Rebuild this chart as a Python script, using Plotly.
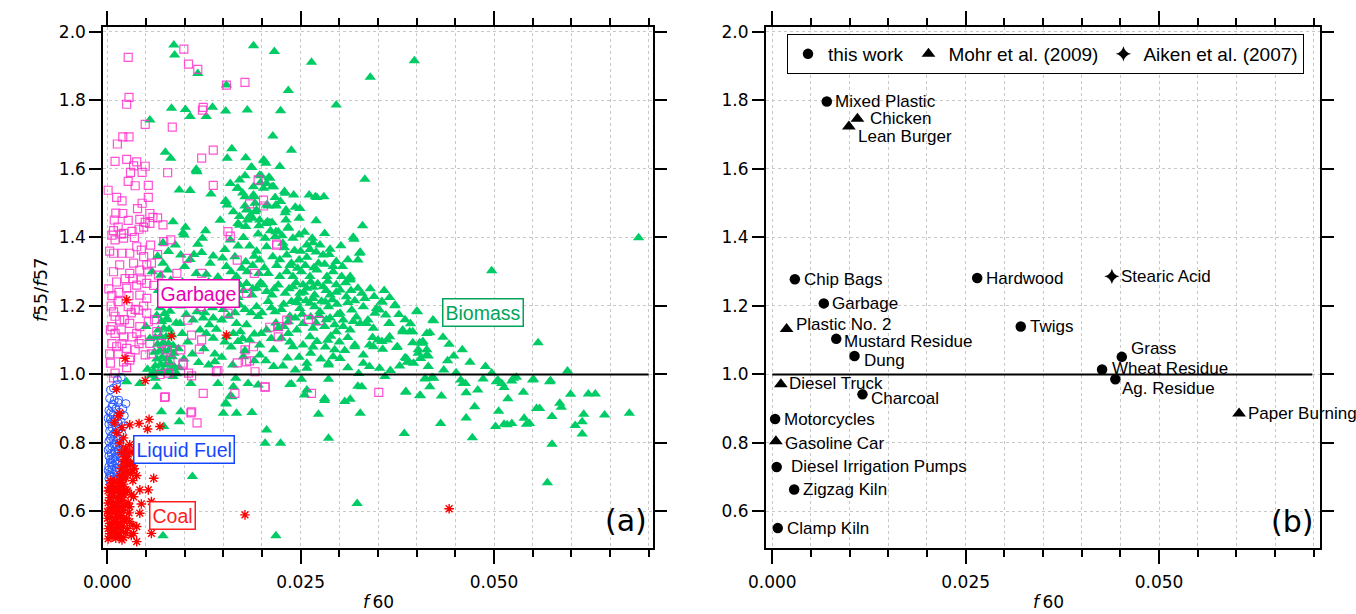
import plotly.graph_objects as go

# ---------------- Panel (a) data: (f60, f55/f57) ----------------
biomass_pts = [
    (0.0086,1.962),(0.0087,1.933),(0.0117,1.879),(0.0189,1.960),(0.0216,1.943),(0.0264,1.912),(0.0397,1.916),(0.0340,1.868),
    (0.0234,1.829),(0.0154,1.845),(0.0296,1.787),(0.0083,1.777),(0.0101,1.774),(0.0107,1.753),(0.0136,1.780),(0.0128,1.753),
    (0.0153,1.769),(0.0181,1.772),(0.0224,1.770),(0.0055,1.743),(0.0214,1.696),(0.0161,1.659),(0.0238,1.655),(0.0075,1.649),
    (0.0082,1.631),(0.0155,1.631),(0.0179,1.633),(0.0202,1.626),(0.0186,1.605),(0.0223,1.607),(0.0115,1.595),(0.0333,1.570),
    (0.0093,1.539),(0.0107,1.537),(0.0134,1.527),(0.0159,1.558),(0.0171,1.568),(0.0178,1.580),(0.0199,1.580),(0.0209,1.576),
    (0.0169,1.544),(0.0202,1.544),(0.0213,1.548),(0.0229,1.534),(0.0241,1.524),(0.0261,1.524),(0.0269,1.519),(0.0280,1.519),
    (0.0178,1.519),(0.0189,1.524),(0.0153,1.505),(0.0155,1.495),(0.0180,1.480),(0.0191,1.475),(0.0206,1.495),(0.0218,1.495),
    (0.0230,1.472),(0.0249,1.485),(0.0248,1.456),(0.0270,1.449),(0.0231,1.451),(0.0181,1.451),(0.0169,1.441),(0.0205,1.441),
    (0.0213,1.444),(0.0085,1.446),(0.0330,1.434),(0.0101,1.430),(0.0098,1.414),(0.0179,1.432),(0.0196,1.434),(0.0218,1.417),
    (0.0234,1.430),(0.0255,1.415),(0.0281,1.412),(0.0318,1.401),
    (0.0203,1.624),(0.0205,1.617),(0.0115,1.599),(0.0116,1.592),(0.0187,1.604),(0.0197,1.582),(0.0210,1.573),(0.0206,1.558),
    (0.0168,1.544),(0.0189,1.548),(0.0215,1.548),(0.0230,1.529),(0.0271,1.517),(0.0153,1.507),(0.0190,1.519),(0.0217,1.517),
    (0.0178,1.492),(0.0181,1.482),(0.0193,1.480),(0.0208,1.492),(0.0218,1.492),(0.0231,1.480),(0.0243,1.488),(0.0171,1.461),
    (0.0188,1.456),(0.0197,1.451),(0.0207,1.446),(0.0171,1.436),(0.0210,1.443),(0.0221,1.417),(0.0234,1.427),
    (0.0072,1.385),(0.0088,1.378),(0.0099,1.407),(0.0123,1.398),(0.0159,1.393),(0.0169,1.375),(0.0184,1.375),(0.0204,1.398),
    (0.0206,1.373),(0.0217,1.402),(0.0227,1.383),(0.0240,1.398),(0.0258,1.378),(0.0266,1.385),(0.0275,1.378),(0.0288,1.366),
    (0.0302,1.376),(0.0319,1.395),(0.0327,1.357),
    (0.0079,1.359),(0.0095,1.349),(0.0107,1.336),(0.0122,1.356),(0.0133,1.325),(0.0137,1.346),(0.0165,1.344),(0.0179,1.329),
    (0.0197,1.334),(0.0214,1.344),(0.0232,1.349),(0.0238,1.325),(0.0248,1.334),(0.0258,1.342),(0.0273,1.325),(0.0279,1.349),
    (0.0292,1.315),(0.0304,1.315),(0.0314,1.286),(0.0324,1.334),
    (0.0100,1.315),(0.0115,1.295),(0.0128,1.293),(0.0154,1.315),(0.0167,1.286),(0.0181,1.300),(0.0196,1.295),(0.0208,1.295),
    (0.0223,1.286),(0.0232,1.300),(0.0240,1.286),(0.0251,1.300),(0.0262,1.286),(0.0271,1.305),(0.0284,1.286),(0.0292,1.300),
    (0.0303,1.286),(0.0314,1.276),
    (0.0109,1.261),(0.0124,1.252),(0.0145,1.256),(0.0163,1.266),(0.0180,1.266),(0.0193,1.252),(0.0206,1.242),(0.0221,1.261),
    (0.0230,1.237),(0.0240,1.256),(0.0249,1.237),(0.0258,1.252),(0.0268,1.232),(0.0279,1.256),(0.0288,1.232),(0.0301,1.247),
    (0.0309,1.227),(0.0324,1.252),(0.0333,1.222),(0.0329,1.237),
    (0.0088,1.213),(0.0103,1.203),(0.0116,1.183),(0.0133,1.218),(0.0148,1.203),(0.0161,1.218),(0.0171,1.203),(0.0193,1.198),
    (0.0208,1.213),(0.0217,1.183),(0.0238,1.213),(0.0249,1.193),(0.0262,1.208),(0.0275,1.183),(0.0286,1.198),(0.0301,1.179),
    (0.0316,1.188),(0.0331,1.198),(0.0346,1.179),(0.0355,1.213),(0.0372,1.203),(0.0401,1.183),(0.0421,1.159),
    (0.0077,1.164),(0.0094,1.149),(0.0111,1.159),(0.0132,1.145),(0.0148,1.159),(0.0167,1.149),(0.0180,1.145),(0.0195,1.169),
    (0.0206,1.130),(0.0221,1.135),(0.0234,1.154),(0.0245,1.130),(0.0253,1.149),(0.0266,1.135),(0.0281,1.140),(0.0294,1.145),
    (0.0305,1.159),(0.0314,1.130),(0.0327,1.149),(0.0337,1.159),(0.0344,1.135),(0.0352,1.188),(0.0365,1.149),(0.0382,1.125),
    (0.0395,1.125),(0.0413,1.120),
    (0.0137,1.106),(0.0154,1.110),(0.0169,1.096),(0.0184,1.101),(0.0197,1.086),(0.0215,1.072),(0.0225,1.106),(0.0240,1.081),
    (0.0253,1.086),(0.0271,1.096),(0.0292,1.052),(0.0320,1.081),(0.0331,1.057),(0.0344,1.081),(0.0355,1.096),(0.0365,1.110),
    (0.0375,1.081),(0.0387,1.047),(0.0402,1.072),(0.0413,1.057),(0.0408,1.096),
    (0.0139,1.037),(0.0162,1.028),(0.0176,1.052),(0.0197,1.057),(0.0215,1.023),(0.0227,1.025),(0.0243,1.013),(0.0258,1.018),
    (0.0286,1.028),(0.0301,1.047),(0.0339,1.023),(0.0352,1.018),(0.0415,1.023),
    (0.0166,0.989),(0.0182,0.974),(0.0195,0.969),(0.0238,0.972),(0.0251,0.986),(0.0286,0.986),(0.0324,0.966),(0.0329,0.964),
    (0.0359,0.994),(0.0386,0.950),(0.0404,0.939),(0.0417,0.964),(0.0411,0.989),(0.0422,0.989),(0.0255,0.940),(0.0281,0.930),
    (0.0307,0.921),(0.0314,0.928),(0.0159,0.937),(0.0154,0.914),(0.0150,0.887),(0.0167,0.887),(0.0273,0.884),(0.0327,0.887),
    (0.0095,0.891),(0.0108,0.974),
    (0.0687,1.399),(0.0497,1.303),(0.0557,1.093),(0.0595,1.010),(0.0422,1.157),(0.0400,1.185),(0.0434,1.109),(0.0442,1.088),
    (0.0459,1.072),(0.0448,1.054),(0.0469,1.036),(0.0489,1.023),(0.0497,1.004),(0.0435,1.013),(0.0451,1.005),(0.0440,1.040),
    (0.0417,1.122),(0.0404,1.093),(0.0413,1.072),(0.0402,1.062),
    (0.0326,1.354),(0.0314,1.281),(0.0372,1.201),(0.0355,1.211),(0.0364,1.149),(0.0360,1.174),(0.0348,1.193),(0.0335,1.149),
    (0.0382,1.130),(0.0408,1.091),(0.0388,1.036),(0.0374,1.079),(0.0356,1.074),(0.0362,1.101),(0.0350,1.101),(0.0339,1.086),
    (0.0320,1.086),(0.0331,1.033),(0.0294,1.072),(0.0286,1.033),(0.0258,1.033),(0.0419,0.989),(0.0457,0.984),(0.0505,0.984),
    (0.0525,0.989),(0.0550,0.984),(0.0572,0.979),
    (0.0391,1.125),(0.0395,1.093),(0.0415,1.054),(0.0385,1.049),(0.0389,1.037),(0.0396,1.033),(0.0405,1.047),
    (0.0411,0.987),(0.0420,0.991),(0.0460,0.974),(0.0463,0.974),(0.0479,0.955),(0.0486,0.987),(0.0503,0.979),(0.0510,0.974),
    (0.0513,0.962),(0.0523,0.981),(0.0529,0.992),(0.0538,0.948),(0.0551,0.986),(0.0573,0.982),(0.0386,0.948),(0.0405,0.938),
    (0.0432,0.937),(0.0464,0.947),(0.0518,0.929),(0.0599,0.942),(0.0622,0.943),(0.0631,0.943),(0.0585,0.916),(0.0587,0.904),
    (0.0475,0.906),(0.0555,0.901),(0.0559,0.901),(0.0506,0.893),(0.0616,0.884),(0.0643,0.882),(0.0675,0.887),(0.0464,0.873),
    (0.0431,0.857),(0.0502,0.848),(0.0513,0.855),(0.0517,0.853),(0.0523,0.857),(0.0539,0.872),(0.0542,0.855),(0.0546,0.857),
    (0.0575,0.877),(0.0605,0.851),(0.0614,0.862),(0.0614,0.826),(0.0384,0.828),(0.0472,0.815),(0.0575,0.796),(0.0569,0.684),
    (0.0025,0.979),(0.0070,0.891),(0.0093,0.862),(0.0073,0.848),(0.0153,0.916),(0.0187,0.889),(0.0206,0.838),(0.0204,0.799),
    (0.0224,0.799),(0.0110,0.702),(0.0072,0.529),(0.0218,0.529),(0.0286,0.814),(0.0236,0.971),(0.0258,0.955),(0.0281,0.924),
    (0.0161,0.935),(0.0163,0.964),(0.0085,0.994),(0.0062,0.989),(0.0064,0.964),(0.0042,0.974),(0.0143,0.974),(0.0131,1.028),
    (0.0323,0.623),
    (0.0060,1.010),(0.0066,1.005),(0.0072,1.012),(0.0078,1.008),(0.0083,1.015),(0.0062,1.025),(0.0069,1.030),(0.0075,1.028),
    (0.0081,1.033),(0.0087,1.022),(0.0064,1.045),(0.0071,1.050),(0.0077,1.046),(0.0084,1.052),(0.0061,1.065),(0.0068,1.070),
    (0.0074,1.068),(0.0080,1.072),(0.0086,1.062),(0.0065,1.088),(0.0072,1.092),(0.0079,1.090),(0.0085,1.085),(0.0062,1.108),
    (0.0069,1.112),(0.0076,1.110),(0.0083,1.115),(0.0066,1.130),(0.0073,1.135),(0.0080,1.132),(0.0070,1.155),(0.0077,1.160),
    (0.0064,1.172),(0.0074,1.178),(0.0081,1.185),(0.0068,1.195),(0.0076,1.205),(0.0071,1.222),(0.0079,1.235),(0.0066,1.245),
    (0.0074,1.262),(0.0082,1.275),(0.0069,1.290),(0.0078,1.305),(0.0072,1.325),(0.0065,1.345),
    (0.0093,1.020),(0.0099,1.045),(0.0092,1.075),(0.0104,1.095),(0.0097,1.120),(0.0110,1.060),(0.0118,1.035),(0.0125,1.075),
    (0.0089,1.150),(0.0102,1.175),(0.0095,1.200),(0.0112,1.225),(0.0120,1.130),(0.0126,1.180),(0.0088,1.240),(0.0097,1.270),
    (0.0058,1.300),(0.0090,1.002),(0.0057,0.998),(0.0052,1.015),(0.0055,1.105),(0.0050,1.140),
    (0.0244,1.268),(0.0253,1.262),(0.0263,1.270),(0.0272,1.265),(0.0285,1.272),(0.0296,1.262),(0.0308,1.268),(0.0247,1.222),
    (0.0257,1.215),(0.0266,1.222),(0.0277,1.214),(0.0291,1.218),(0.0311,1.210),(0.0252,1.176),(0.0263,1.168),(0.0274,1.172),
    (0.0288,1.165),(0.0298,1.175),(0.0322,1.168),(0.0236,1.170),(0.0225,1.190),(0.0213,1.232),(0.0198,1.268),(0.0187,1.232),
    (0.0176,1.245),(0.0169,1.225),(0.0158,1.240),(0.0142,1.235),(0.0136,1.195),(0.0124,1.165),(0.0157,1.170),(0.0186,1.180),
    (0.0246,1.310),(0.0256,1.318),(0.0267,1.312),(0.0281,1.322),(0.0296,1.330),(0.0311,1.335),(0.0287,1.350),(0.0270,1.358),
    (0.0250,1.360),(0.0229,1.370),(0.0193,1.360),(0.0152,1.365),(0.0143,1.285),(0.0131,1.270),(0.0340,1.250),(0.0345,1.228),
    (0.0358,1.245),(0.0365,1.225),(0.0377,1.175),(0.0385,1.160),(0.0392,1.148),(0.0343,1.108),(0.0311,1.108),(0.0300,1.095),
    (0.0289,1.112),(0.0262,1.110),(0.0234,1.120),(0.0212,1.105),(0.0190,1.118),(0.0172,1.125),(0.0160,1.080),(0.0178,1.070),
    (0.0190,1.040),(0.0233,1.048),(0.0263,1.062),(0.0276,1.045),(0.0311,1.020),(0.0325,1.003),(0.0366,1.012),(0.0378,1.025),
    (0.0128,1.120),(0.0141,1.132),(0.0152,1.095),(0.0163,1.120),(0.0175,1.105),(0.0199,1.120),(0.0218,1.150),(0.0228,1.140),
    (0.0243,1.165),(0.0270,1.150),(0.0283,1.160),(0.0296,1.125),(0.0305,1.140),(0.0318,1.155),(0.0137,1.165),(0.0150,1.190),
    (0.0165,1.180),(0.0178,1.190),(0.0200,1.180),(0.0212,1.195),(0.0228,1.205),(0.0245,1.210),(0.0268,1.198),(0.0282,1.212),
    (0.0297,1.205),(0.0320,1.215),(0.0153,1.240),(0.0171,1.262),(0.0188,1.250),(0.0201,1.262),(0.0216,1.250),(0.0235,1.250),
    (0.0254,1.240),(0.0266,1.255),(0.0283,1.245),(0.0296,1.240),(0.0315,1.245),(0.0160,1.300),(0.0174,1.310),(0.0188,1.318),
    (0.0203,1.312),(0.0219,1.318),(0.0236,1.318),(0.0149,1.340),(0.0190,1.345),(0.0223,1.335),(0.0242,1.362),(0.0262,1.365),
    (0.0176,1.400),(0.0195,1.410),(0.0211,1.420),(0.0226,1.405),(0.0248,1.408),(0.0265,1.398),(0.0191,1.500),(0.0175,1.530),
    (0.0198,1.560),(0.0224,1.505),(0.0185,1.465),(0.0163,1.475),(0.0146,1.450),(0.0127,1.420),(0.0117,1.380),(0.0112,1.350),
    (0.0104,1.250),(0.0139,1.060),(0.0148,1.050),(0.0205,1.040),(0.0248,1.050),(0.0266,1.080),(0.0282,1.080),(0.0307,1.070),
    (0.0236,1.095),(0.0285,1.100),
]

garbage_pts = [
    (0.0027,1.926),(0.0099,1.950),(0.0105,1.906),(0.0117,1.891),(0.0154,1.845),(0.0178,1.853),(0.0028,1.809),(0.0025,1.789),
    (0.0124,1.780),(0.0123,1.772),(0.0049,1.730),(0.0084,1.722),(0.0020,1.694),(0.0028,1.694),(0.0013,1.673),(0.0137,1.655),
    (0.0025,1.628),(0.0010,1.622),(0.0038,1.621),(0.0034,1.609),(0.0049,1.608),(0.0122,1.632),(0.0030,1.590),(0.0045,1.590),
    (0.0078,1.589),(0.0027,1.564),(0.0036,1.551),(0.0053,1.552),(0.0137,1.552),(0.0001,1.538),(0.0012,1.517),(0.0019,1.507),
    (0.0053,1.517),(0.0039,1.484),(0.0011,1.471),(0.0009,1.451),(0.0042,1.453),(0.0049,1.444),(0.0055,1.441),(0.0059,1.459),
    (0.0065,1.457),(0.0072,1.437),(0.0041,1.424),(0.0032,1.418),(0.0014,1.430),(0.0006,1.407),(0.0021,1.412),(0.0159,1.404),
    (0.0082,1.393),
    (0.0008,1.354),(0.0019,1.354),(0.0029,1.354),(0.0010,1.393),(0.0021,1.398),(0.0038,1.373),(0.0044,1.363),(0.0056,1.378),
    (0.0047,1.344),(0.0034,1.325),(0.0029,1.295),(0.0042,1.305),(0.0051,1.320),(0.0057,1.325),(0.0066,1.290),(0.0044,1.276),
    (0.0051,1.266),(0.0038,1.261),(0.0025,1.252),(0.0042,1.232),(0.0051,1.222),(0.0014,1.213),(0.0027,1.198),(0.0040,1.188),
    (0.0051,1.179),(0.0008,1.183),(0.0016,1.159),(0.0029,1.149),(0.0042,1.140),(0.0053,1.154),(0.0006,1.140),(0.0010,1.120),
    (0.0021,1.110),(0.0032,1.110),(0.0044,1.101),(0.0055,1.091),(0.0012,1.081),(0.0025,1.076),(0.0036,1.072),(0.0049,1.057),
    (0.0004,1.033),(0.0010,1.004),(0.0021,1.037),(0.0029,1.042),(0.0064,1.125),(0.0070,1.091),(0.0077,1.072),(0.0081,1.042),
    (0.0079,1.004),(0.0075,0.935),(0.0098,1.033),(0.0109,0.891),(0.0116,0.859),(0.0124,0.945),(0.0165,0.945),(0.0178,1.072),
    (0.0189,1.081),(0.0180,1.037),(0.0204,0.964),(0.0264,0.945),(0.0105,1.004),(0.0122,1.101),(0.0109,1.115),(0.0141,1.008),
    (0.0191,1.008),(0.0219,1.378),(0.0156,1.417),(0.0221,1.140),(0.0232,1.159),(0.0260,1.161),(0.0274,1.157),(0.0190,1.295),
    (0.0103,1.339),(0.0122,1.295),(0.0090,1.295),
    (0.0195,1.568),(0.0202,1.509),(0.0184,1.498),(0.0202,1.492),(0.0219,1.381),(0.0073,1.388),(0.0168,1.334),
    (0.0180,1.237),(0.0156,1.179),(0.0121,1.198),(0.0104,1.159),(0.0210,1.138),(0.0221,1.110),(0.0119,1.074),(0.0095,1.072),
    (0.0168,1.034),(0.0184,1.040),(0.0143,1.011),(0.0098,1.028),(0.0109,0.996),(0.0204,0.963),(0.0351,0.948),(0.0074,0.933),
    (0.0108,0.888),
    (0.0003,1.360),(0.0008,1.300),(0.0002,1.250),(0.0012,1.270),(0.0005,1.200),(0.0015,1.240),(0.0010,1.170),(0.0004,1.130),
    (0.0018,1.130),(0.0006,1.090),(0.0014,1.060),(0.0022,1.160),(0.0028,1.230),(0.0033,1.280),(0.0036,1.190),(0.0041,1.090),
    (0.0030,1.050),(0.0025,1.020),(0.0008,0.990),(0.0018,1.410),(0.0027,1.450),(0.0035,1.400),(0.0047,1.430),(0.0052,1.300),
    (0.0060,1.260),(0.0061,1.160),(0.0057,1.060),(0.0068,1.000),(0.0065,1.350),(0.0055,1.470),(0.0045,1.500),(0.0020,1.470),
    (0.0008,1.420),(0.0016,1.320),(0.0023,1.280),(0.0031,1.180),(0.0047,1.200),(0.0038,1.120),(0.0019,1.090),(0.0003,1.060),
    (0.0006,1.230),
]

liquid_fuel_pts = [
    (0.0004,0.955),(0.0008,0.960),(0.0013,0.985),(0.0018,0.992),(0.0012,0.970),(0.0003,0.930),(0.0009,0.925),(0.0014,0.918),
    (0.0006,0.905),(0.0011,0.900),(0.0002,0.895),(0.0016,0.890),(0.0007,0.882),(0.0013,0.876),(0.0004,0.870),(0.0009,0.865),
    (0.0018,0.862),(0.0002,0.855),(0.0011,0.850),(0.0006,0.845),(0.0015,0.840),(0.0003,0.835),(0.0010,0.830),(0.0019,0.826),
    (0.0005,0.820),(0.0013,0.815),(0.0008,0.810),(0.0002,0.805),(0.0016,0.800),(0.0011,0.795),(0.0006,0.790),(0.0003,0.785),
    (0.0014,0.781),(0.0009,0.776),(0.0005,0.770),(0.0012,0.766),(0.0002,0.762),(0.0017,0.758),(0.0007,0.754),(0.0010,0.748),
    (0.0004,0.744),(0.0013,0.740),(0.0008,0.735),(0.0002,0.731),(0.0015,0.727),(0.0006,0.722),(0.0011,0.718),(0.0003,0.714),
    (0.0009,0.709),(0.0005,0.704),(0.0013,0.700),(0.0002,0.696),(0.0008,0.692),(0.0011,0.686),(0.0004,0.682),(0.0007,0.676),
    (0.0010,0.670),(0.0005,0.664),(0.0012,0.658),(0.0008,0.652),(0.0001,0.872),(0.0001,0.780),(0.0001,0.720),(0.0020,0.900),
    (0.0021,0.850),(0.0020,0.780),(0.0017,0.700),(0.0006,0.862),(0.0012,0.842),(0.0004,0.812),(0.0009,0.796),(0.0015,0.770),
    (0.0006,0.742),(0.0012,0.728),(0.0003,0.705),(0.0016,0.812),(0.0007,0.913),(0.0004,0.888),(0.0014,0.858),(0.0010,0.758),
    (0.0004,0.752),(0.0008,0.826),(0.0013,0.790),(0.0015,0.925),(0.0024,0.915),(0.0022,0.880),
]

coal_pts = [
    (0.0001,0.520),(0.0006,0.525),(0.0011,0.522),(0.0016,0.528),(0.0021,0.524),(0.0003,0.535),(0.0008,0.540),(0.0013,0.536),
    (0.0018,0.542),(0.0024,0.538),(0.0001,0.550),(0.0005,0.555),(0.0010,0.548),(0.0015,0.553),(0.0020,0.558),(0.0026,0.550),
    (0.0003,0.565),(0.0008,0.570),(0.0012,0.562),(0.0017,0.568),(0.0022,0.572),(0.0000,0.580),(0.0005,0.585),(0.0010,0.578),
    (0.0014,0.583),(0.0019,0.588),(0.0025,0.580),(0.0002,0.595),(0.0007,0.600),(0.0012,0.593),(0.0016,0.598),(0.0021,0.603),
    (0.0028,0.596),(0.0004,0.610),(0.0009,0.615),(0.0013,0.608),(0.0018,0.613),(0.0023,0.618),(0.0001,0.625),(0.0006,0.630),
    (0.0011,0.622),(0.0015,0.628),(0.0020,0.633),(0.0027,0.625),(0.0003,0.640),(0.0008,0.645),(0.0013,0.638),(0.0017,0.643),
    (0.0022,0.648),(0.0005,0.655),(0.0010,0.660),(0.0015,0.653),(0.0019,0.658),(0.0024,0.664),(0.0002,0.670),(0.0007,0.675),
    (0.0012,0.668),(0.0017,0.673),(0.0021,0.680),(0.0009,0.688),(0.0014,0.684),(0.0019,0.692),(0.0024,0.698),(0.0016,0.705),
    (0.0021,0.712),(0.0026,0.718),(0.0018,0.725),(0.0023,0.731),(0.0028,0.738),(0.0020,0.745),(0.0025,0.752),(0.0030,0.742),
    (0.0022,0.760),(0.0027,0.768),(0.0032,0.775),(0.0018,0.772),(0.0024,0.785),(0.0029,0.795),(0.0016,0.800),(0.0021,0.815),
    (0.0012,0.830),(0.0019,0.845),(0.0009,0.860),(0.0014,0.880),(0.0030,0.710),(0.0033,0.690),(0.0035,0.725),(0.0038,0.705),
    (0.0026,0.660),(0.0031,0.650),(0.0029,0.570),(0.0033,0.560),(0.0031,0.530),(0.0004,0.690),(0.0001,0.660),(0.0000,0.600),
    (0.0049,0.982),(0.0012,0.957),(0.0016,0.887),(0.0029,0.853),(0.0041,0.857),(0.0054,0.869),(0.0052,0.841),(0.0068,0.848),
    (0.0023,0.780),(0.0025,0.750),(0.0034,0.741),(0.0033,0.721),(0.0060,0.697),(0.0021,0.697),(0.0042,0.663),(0.0053,0.663),
    (0.0057,0.629),(0.0044,0.622),(0.0034,0.643),(0.0029,0.614),(0.0042,0.595),(0.0038,0.556),(0.0034,0.536),(0.0057,0.536),
    (0.0019,0.517),(0.0038,0.512),(0.0178,0.590),(0.0083,1.112),(0.0154,1.115),(0.0025,1.218),(0.0023,1.047),(0.0442,0.608),
]

# ---------------- Panel (b) data ----------------
src_names = ["this work", "Mohr et al. (2009)", "Aiken et al. (2007)"]
b_labels = ["Mixed Plastic", "Chicken", "Lean Burger", "Chip Bags", "Garbage", "Plastic No. 2", "Mustard Residue",
            "Dung", "Diesel Truck", "Charcoal", "Motorcycles", "Gasoline Car", "Diesel Irrigation Pumps",
            "Zigzag Kiln", "Clamp Kiln", "Hardwood", "Twigs", "Stearic Acid", "Grass", "Wheat Residue",
            "Ag. Residue", "Paper Burning"]
b_f60 = [0.00705, 0.01101, 0.00990, 0.00292, 0.00666, 0.00185, 0.00827, 0.01063, 0.00111, 0.01166, 0.00037,
         0.00047, 0.00057, 0.00283, 0.00071, 0.02649, 0.03212, 0.04390, 0.04518, 0.04263, 0.04435, 0.06034]
b_ratio = [1.797, 1.7465, 1.724, 1.278, 1.2076, 1.1325, 1.104, 1.054, 0.9716, 0.942, 0.870, 0.805, 0.730,
           0.664, 0.5515, 1.2816, 1.140, 1.2865, 1.0515, 1.0146, 0.986, 0.886]
b_source = [0, 1, 1, 0, 0, 1, 0, 0, 1, 0, 0, 1, 0, 0, 0, 0, 0, 2, 0, 0, 0, 1]
# label offsets in pixels (dx, dy)
b_label_dx = [6, 11, 7, 7, 6, 7, 6, 7, 6, 7, 7, 7, 12, 7, 7, 7, 7, 7, 7, 8, 5, 7]
b_label_dy = [0, 0, -10, 0, 0, 5, -3, -5, 1, -4, 0, -2, 0, 0, 0, 0, 0, 0, 8, 1, -9, 0]

# ---------------- Figure ----------------
W, H = 1356, 614
fig = go.Figure()

def unzip(pts):
    return [p[0] for p in pts], [p[1] for p in pts]

bx, by = unzip(biomass_pts)
gx, gy = unzip(garbage_pts)
lx, ly = unzip(liquid_fuel_pts)
cx, cy = unzip(coal_pts)

fig.add_trace(go.Scatter(x=bx, y=by, mode="markers", xaxis="x", yaxis="y", showlegend=False,
                         marker=dict(symbol="triangle-up", size=10, color="rgb(0,204,102)", line=dict(width=0))))
fig.add_trace(go.Scatter(x=gx, y=gy, mode="markers", xaxis="x", yaxis="y", showlegend=False,
                         marker=dict(symbol="square-open", size=8, color="rgba(255,50,205,0.85)",
                                     line=dict(width=1.2, color="rgba(255,50,205,0.85)"))))
fig.add_trace(go.Scatter(x=lx, y=ly, mode="markers", xaxis="x", yaxis="y", showlegend=False,
                         marker=dict(symbol="circle-open", size=8, color="rgb(40,90,255)",
                                     line=dict(width=1, color="rgb(40,90,255)"))))
fig.add_trace(go.Scatter(x=cx, y=cy, mode="markers", xaxis="x", yaxis="y", showlegend=False,
                         marker=dict(symbol="asterisk-open", size=8, color="rgb(255,0,0)",
                                     line=dict(width=1.4, color="rgb(255,0,0)"))))

sym = ["circle", "triangle-up", "star-diamond"]
msize = [10.5, 12, 11]
for s in range(3):
    idx = [i for i in range(len(b_labels)) if b_source[i] == s]
    fig.add_trace(go.Scatter(x=[b_f60[i] for i in idx], y=[b_ratio[i] for i in idx], mode="markers",
                             xaxis="x2", yaxis="y2", name=src_names[s], showlegend=True,
                             marker=dict(symbol=sym[s], size=msize[s], color="black", line=dict(width=0))))

tickfont = dict(family="DejaVu Sans", size=17, color="black")
gridc = "rgb(200,200,200)"

def xax(domain, rng, anchor):
    return dict(domain=domain, range=rng, anchor=anchor, tickmode="linear", tick0=0, dtick=0.025,
                tickformat=".3f", ticks="outside", ticklen=14, tickwidth=2, tickcolor="black",
                showline=True, linewidth=2, linecolor="black", mirror="allticks", automargin=False,
                showgrid=True, gridcolor=gridc, griddash="dot", gridwidth=1, zeroline=False,
                tickfont=tickfont, ticklabelstandoff=4,
                minor=dict(dtick=0.005, tick0=0, ticks="outside", ticklen=7, tickwidth=2, tickcolor="black",
                           showgrid=True, gridcolor=gridc, griddash="dot", gridwidth=1))

def yax(domain, rng, anchor):
    return dict(domain=domain, range=rng, anchor=anchor, tickmode="linear", tick0=0, dtick=0.2,
                tickformat=".1f", ticks="outside", ticklen=12, tickwidth=2, tickcolor="black",
                showline=True, linewidth=2, linecolor="black", mirror="allticks", automargin=False,
                showgrid=True, gridcolor=gridc, griddash="dot", gridwidth=1, zeroline=False,
                tickfont=tickfont)

ydom = [(H - 548) / H, (H - 27.3) / H]
yr = [0.4934, 2.0137]
fig.update_layout(
    width=W, height=H, margin=dict(l=0, r=0, t=0, b=0, autoexpand=False),
    paper_bgcolor="white", plot_bgcolor="white",
    xaxis=xax([103.3 / W, 653 / W], [-0.00052, 0.07056], "y"),
    yaxis=yax(ydom, yr, "x"),
    xaxis2=xax([766 / W, 1320 / W], [-0.00081, 0.0708], "y2"),
    yaxis2=yax(ydom, yr, "x2"),
    legend=dict(orientation="h", x=787 / W, y=1 - 34 / H, xanchor="left", yanchor="top",
                bordercolor="black", borderwidth=1, bgcolor="white",
                font=dict(family="Liberation Sans", size=19, color="black"), itemwidth=30),
    showlegend=True,
)

# reference lines at f55/f57 = 1
fig.add_shape(type="line", xref="x", yref="y", x0=-0.00052, x1=0.070, y0=1, y1=1,
              line=dict(color="black", width=2))
fig.add_shape(type="line", xref="x2", yref="y2", x0=0.0, x1=0.0698, y0=1, y1=1,
              line=dict(color="black", width=2))

# group labels in panel (a)
grp = [("Garbage", 0.01185, 1.236, "rgb(230,0,180)"),
       ("Liquid Fuel", 0.00991, 0.7796, "rgb(20,70,255)"),
       ("Coal", 0.00845, 0.587, "rgb(255,30,30)"),
       ("Biomass", 0.04854, 1.1796, "rgb(0,165,90)")]
for t, x, y, c in grp:
    fig.add_annotation(x=x, y=y, xref="x", yref="y", text=t, showarrow=False,
                       font=dict(family="Liberation Sans", size=19.5, color=c),
                       bgcolor="white", bordercolor=c, borderwidth=1.5, borderpad=2,
                       xanchor="center", yanchor="middle")

# point labels in panel (b)
for i, t in enumerate(b_labels):
    fig.add_annotation(x=b_f60[i], y=b_ratio[i], xref="x2", yref="y2", text=t, showarrow=False,
                       font=dict(family="Liberation Sans", size=17, color="black"),
                       xanchor="left", yanchor="middle", xshift=b_label_dx[i], yshift=b_label_dy[i])

# panel tags
fig.add_annotation(x=649 / W, y=1 - 520 / H, xref="paper", yref="paper", text="(a)", showarrow=False,
                   font=dict(family="DejaVu Sans", size=30, color="black"), xanchor="right", yanchor="middle")
fig.add_annotation(x=1315 / W, y=1 - 521 / H, xref="paper", yref="paper", text="(b)", showarrow=False,
                   font=dict(family="DejaVu Sans", size=30, color="black"), xanchor="right", yanchor="middle")

# axis titles
fig.add_annotation(x=378 / W, y=1 - 602 / H, xref="paper", yref="paper", text="<i>f</i>\u200960", showarrow=False,
                   font=dict(family="DejaVu Sans", size=17, color="black"), xanchor="center", yanchor="middle")
fig.add_annotation(x=1048 / W, y=1 - 602 / H, xref="paper", yref="paper", text="<i>f</i>\u200960", showarrow=False,
                   font=dict(family="DejaVu Sans", size=17, color="black"), xanchor="center", yanchor="middle")
fig.add_annotation(x=40 / W, y=1 - 290 / H, xref="paper", yref="paper", text="<i>f</i>55/<i>f</i>57",
                   showarrow=False, textangle=-90,
                   font=dict(family="DejaVu Sans", size=18, color="black"), xanchor="center", yanchor="middle")

fig.write_html("out.html", config={"displayModeBar": False},
               post_script="document.body.style.margin='0px';document.body.style.overflow='hidden';")
